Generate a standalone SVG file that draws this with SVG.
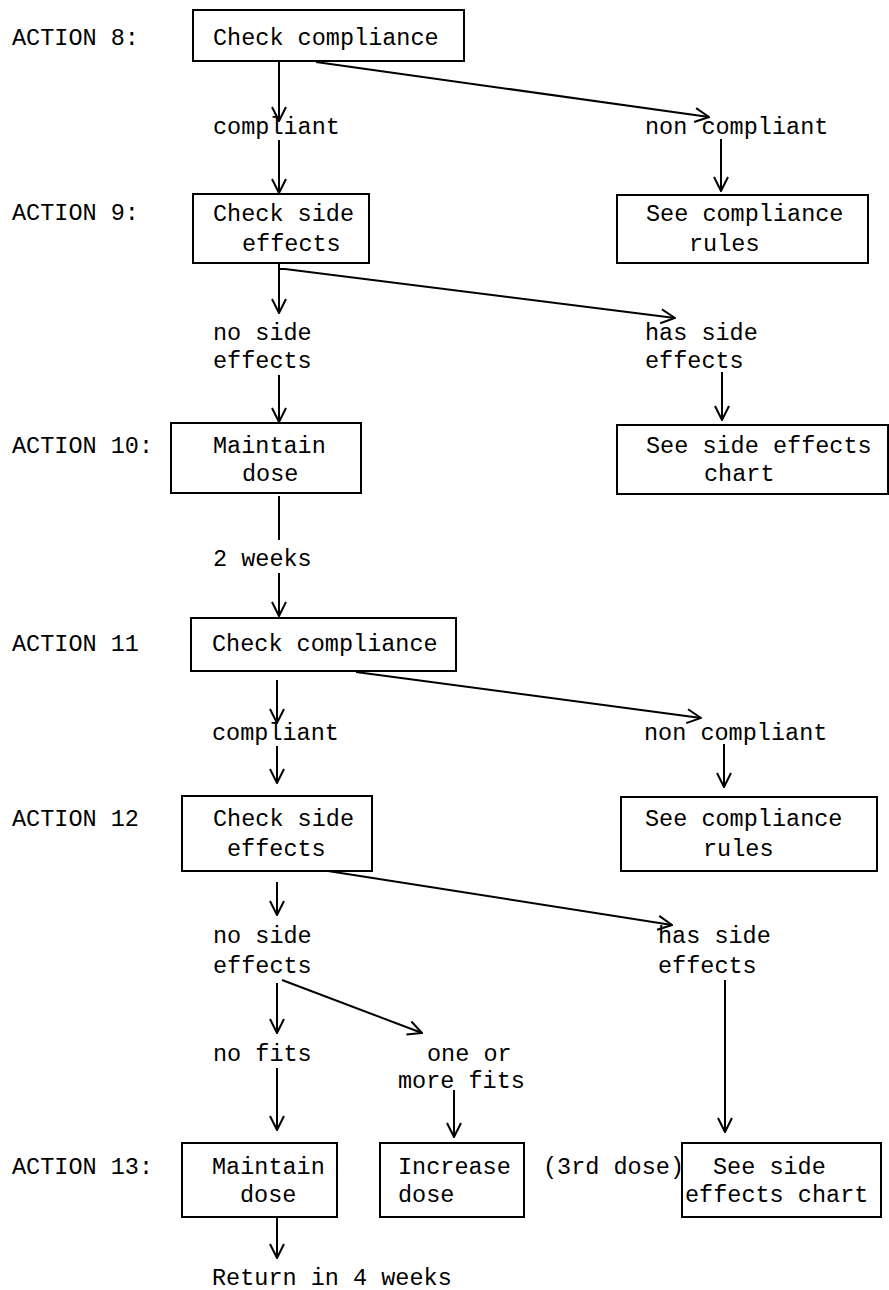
<svg xmlns="http://www.w3.org/2000/svg" width="889" height="1290" viewBox="0 0 889 1290">
<style>
text{font-family:"Liberation Mono","Courier New",monospace;font-size:23.5px;fill:#000}
.box{fill:none;stroke:#000;stroke-width:2}
.c{fill:none;stroke:#000;stroke-width:2}
.a{marker-end:url(#ah)}
</style>
<defs>
<marker id="ah" viewBox="0 0 16 16" refX="15" refY="8" markerWidth="16" markerHeight="16" markerUnits="userSpaceOnUse" orient="auto">
<path d="M1,1 L15,8 L1,15" fill="none" stroke="#000" stroke-width="2"/>
</marker>
</defs>
<rect width="889" height="1290" fill="#fff"/>
<g id="labels">
<text x="12" y="45">ACTION 8:</text>
<text x="12" y="220">ACTION 9:</text>
<text x="12" y="453">ACTION 10:</text>
<text x="12" y="651">ACTION 11</text>
<text x="12" y="826">ACTION 12</text>
<text x="12" y="1174">ACTION 13:</text>
<text x="213" y="134">compliant</text>
<text x="645" y="134">non compliant</text>
<text x="213" y="340">no side</text>
<text x="213" y="368">effects</text>
<text x="645" y="340">has side</text>
<text x="645" y="368">effects</text>
<text x="213" y="566">2 weeks</text>
<text x="212" y="740">compliant</text>
<text x="644" y="740">non compliant</text>
<text x="213" y="943">no side</text>
<text x="213" y="973">effects</text>
<text x="658" y="943">has side</text>
<text x="658" y="973">effects</text>
<text x="213" y="1061">no fits</text>
<text x="427" y="1061">one or</text>
<text x="398" y="1088">more fits</text>
<text x="543" y="1174">(3rd dose)</text>
<text x="212" y="1285">Return in 4 weeks</text>
</g>
<g id="n1"><rect class="box" x="193" y="10" width="271" height="51"/><text x="213" y="45">Check compliance</text></g>
<g id="n2"><rect class="box" x="193" y="194" width="176" height="69"/><text x="213" y="221">Check side</text><text x="242" y="251">effects</text></g>
<g id="n3"><rect class="box" x="617" y="195" width="251" height="68"/><text x="646" y="221">See compliance</text><text x="689" y="251">rules</text></g>
<g id="n4"><rect class="box" x="171" y="423" width="190" height="70"/><text x="213" y="453">Maintain</text><text x="242" y="481">dose</text></g>
<g id="n5"><rect class="box" x="617" y="425" width="271" height="69"/><text x="646" y="453">See side effects</text><text x="704" y="481">chart</text></g>
<g id="n6"><rect class="box" x="191" y="618" width="265" height="53"/><text x="212" y="651">Check compliance</text></g>
<g id="n7"><rect class="box" x="182" y="796" width="190" height="75"/><text x="213" y="826">Check side</text><text x="227" y="856">effects</text></g>
<g id="n8"><rect class="box" x="621" y="797" width="256" height="74"/><text x="645" y="826">See compliance</text><text x="703" y="856">rules</text></g>
<g id="n9"><rect class="box" x="182" y="1143" width="155" height="74"/><text x="212" y="1174">Maintain</text><text x="240" y="1202">dose</text></g>
<g id="n10"><rect class="box" x="380" y="1143" width="144" height="74"/><text x="398" y="1174">Increase</text><text x="398" y="1202">dose</text></g>
<g id="n11"><rect class="box" x="682" y="1143" width="199" height="74"/><text x="713" y="1174">See side</text><text x="685" y="1202">effects chart</text></g>
<g id="connectors">
<line class="c a" x1="279" y1="62" x2="279" y2="121"/>
<line class="c a" x1="279" y1="140" x2="279" y2="193"/>
<line class="c a" x1="316" y1="62" x2="709" y2="117"/>
<line class="c a" x1="721" y1="139" x2="721" y2="191"/>
<line class="c a" x1="279" y1="264" x2="279" y2="313"/>
<polyline class="c a" points="279,269 285,269 675,318"/>
<line class="c a" x1="279" y1="375" x2="279" y2="422"/>
<line class="c a" x1="722" y1="372" x2="722" y2="420"/>
<line class="c" x1="279" y1="496" x2="279" y2="540"/>
<line class="c a" x1="279" y1="573" x2="279" y2="616"/>
<line class="c a" x1="277" y1="680" x2="277" y2="723"/>
<line class="c a" x1="277" y1="746" x2="277" y2="783"/>
<line class="c a" x1="356" y1="672" x2="701" y2="718"/>
<line class="c a" x1="724" y1="744" x2="724" y2="787"/>
<line class="c a" x1="277" y1="882" x2="277" y2="915"/>
<line class="c a" x1="328" y1="871" x2="672" y2="925"/>
<line class="c a" x1="277" y1="983" x2="277" y2="1033"/>
<line class="c a" x1="282" y1="980" x2="422" y2="1033"/>
<line class="c a" x1="277" y1="1068" x2="277" y2="1130"/>
<line class="c a" x1="454" y1="1090" x2="454" y2="1137"/>
<line class="c a" x1="725" y1="980" x2="725" y2="1132"/>
<line class="c a" x1="277" y1="1217" x2="277" y2="1258"/>
</g>
</svg>
